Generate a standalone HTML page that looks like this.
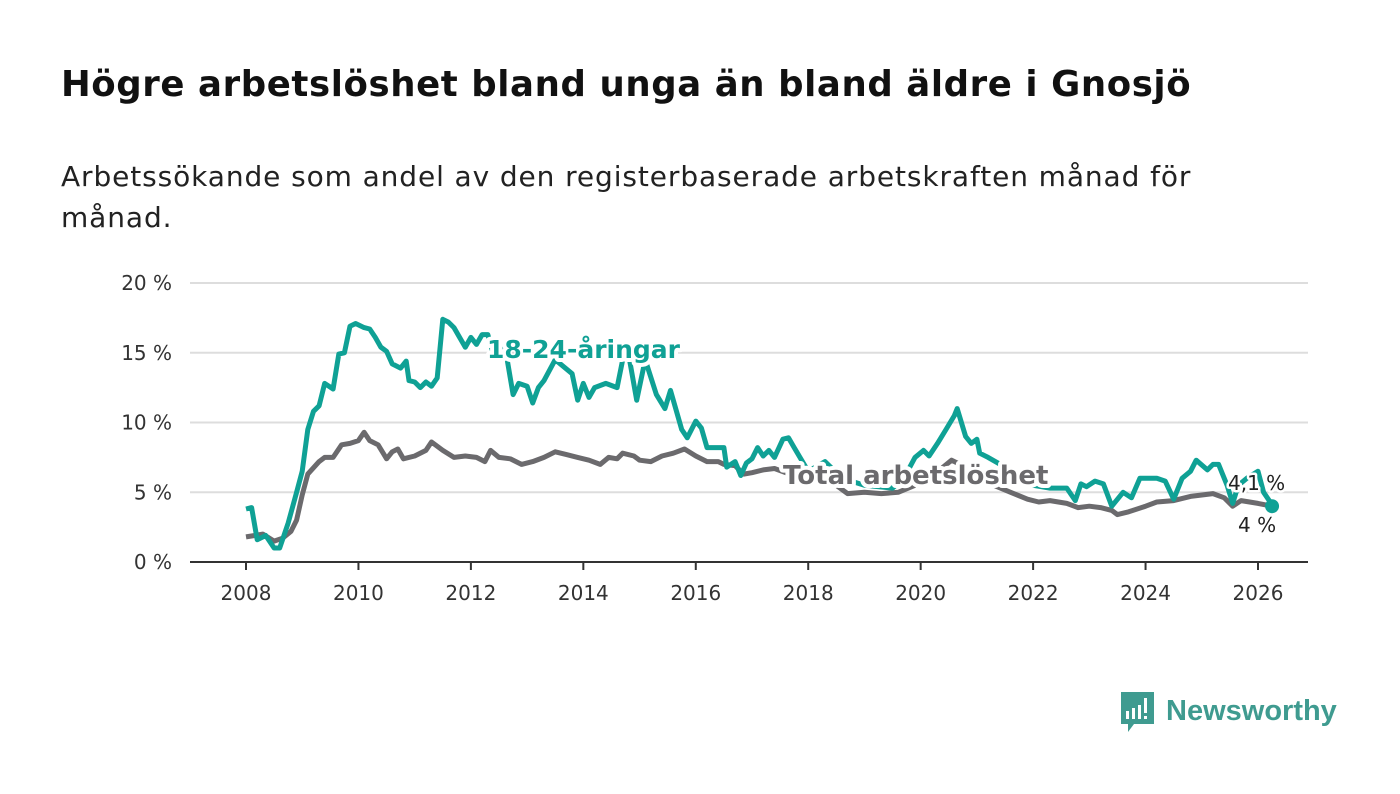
<!DOCTYPE html>
<html><head><meta charset="utf-8"><style>
body{margin:0;background:#fff;width:1400px;height:794px;overflow:hidden;font-family:"DejaVu Sans","Liberation Sans",sans-serif;}
h1{position:absolute;left:61px;top:64px;margin:0;font-size:35.5px;letter-spacing:0.6px;font-weight:bold;color:#111;white-space:nowrap;}
.sub{position:absolute;left:61px;top:156px;margin:0;font-size:28px;letter-spacing:0.9px;line-height:41px;color:#222;width:1300px;}
svg{position:absolute;left:0;top:0;}
</style></head><body>
<h1>Högre arbetslöshet bland unga än bland äldre i Gnosjö</h1>
<p class="sub">Arbetssökande som andel av den registerbaserade arbetskraften månad för<br>månad.</p>
<svg id="chart" width="1400" height="794"></svg>
<script>
const yTicks=[0,5,10,15,20];
const yTickLabels=["0 %","5 %","10 %","15 %","20 %"];
const xTicks=[2008,2010,2012,2014,2016,2018,2020,2022,2024,2026];
const youthDates=[2008.0,2008.1,2008.2,2008.35,2008.5,2008.6,2008.75,2008.9,2009.0,2009.1,2009.2,2009.3,2009.4,2009.55,2009.65,2009.75,2009.85,2009.95,2010.1,2010.2,2010.3,2010.4,2010.5,2010.6,2010.75,2010.85,2010.9,2011.0,2011.1,2011.2,2011.3,2011.4,2011.5,2011.6,2011.7,2011.8,2011.9,2012.0,2012.1,2012.2,2012.3,2012.4,2012.55,2012.6,2012.75,2012.85,2013.0,2013.1,2013.2,2013.3,2013.5,2013.8,2013.9,2014.0,2014.1,2014.2,2014.4,2014.6,2014.7,2014.8,2014.95,2015.1,2015.3,2015.45,2015.55,2015.75,2015.85,2016.0,2016.1,2016.2,2016.5,2016.55,2016.7,2016.8,2016.9,2017.0,2017.1,2017.2,2017.3,2017.4,2017.55,2017.65,2017.75,2018.0,2018.3,2018.6,2019.0,2019.5,2019.7,2019.9,2020.05,2020.15,2020.3,2020.45,2020.6,2020.65,2020.8,2020.9,2021.0,2021.05,2021.2,2021.5,2022.0,2022.3,2022.6,2022.75,2022.85,2022.95,2023.1,2023.25,2023.4,2023.6,2023.75,2023.9,2024.2,2024.35,2024.5,2024.65,2024.8,2024.9,2025.1,2025.2,2025.3,2025.45,2025.55,2025.65,2025.8,2026.0,2026.1,2026.25];
const youthValues=[3.8,3.9,1.6,1.9,1.0,1.0,2.8,5.0,6.5,9.5,10.8,11.2,12.8,12.4,14.9,15.0,16.9,17.1,16.8,16.7,16.1,15.4,15.1,14.2,13.9,14.4,13.0,12.9,12.5,12.9,12.6,13.2,17.4,17.2,16.8,16.1,15.4,16.1,15.6,16.3,16.3,14.9,15.1,15.6,12.0,12.8,12.6,11.4,12.5,13.0,14.5,13.5,11.6,12.8,11.8,12.5,12.8,12.5,14.5,15.0,11.6,14.5,12.0,11.0,12.3,9.5,8.9,10.1,9.6,8.2,8.2,6.8,7.2,6.2,7.1,7.4,8.2,7.6,8.0,7.5,8.8,8.9,8.2,6.5,7.2,6.0,5.5,5.3,6.0,7.5,8.0,7.6,8.5,9.5,10.5,11.0,9.0,8.5,8.8,7.8,7.5,6.8,5.5,5.3,5.3,4.4,5.6,5.4,5.8,5.6,4.0,5.0,4.6,6.0,6.0,5.8,4.5,6.0,6.5,7.3,6.6,7.0,7.0,5.5,4.2,5.5,6.0,6.5,5.0,4.1];
const totalDates=[2008.0,2008.3,2008.5,2008.65,2008.8,2008.9,2009.0,2009.1,2009.3,2009.4,2009.55,2009.7,2009.85,2010.0,2010.1,2010.2,2010.35,2010.5,2010.6,2010.7,2010.8,2011.0,2011.2,2011.3,2011.5,2011.7,2011.9,2012.1,2012.25,2012.35,2012.5,2012.7,2012.9,2013.1,2013.3,2013.5,2013.7,2013.9,2014.1,2014.3,2014.45,2014.6,2014.7,2014.9,2015.0,2015.2,2015.4,2015.6,2015.8,2016.0,2016.2,2016.4,2016.5,2016.7,2016.85,2017.0,2017.2,2017.4,2017.6,2017.8,2018.2,2018.5,2018.7,2019.0,2019.3,2019.6,2019.9,2020.1,2020.4,2020.55,2020.7,2021.0,2021.3,2021.6,2021.9,2022.1,2022.3,2022.6,2022.8,2023.0,2023.2,2023.4,2023.5,2023.7,2024.0,2024.2,2024.5,2024.8,2025.0,2025.2,2025.4,2025.55,2025.7,2026.0,2026.25];
const totalValues=[1.8,2.0,1.5,1.7,2.2,3.0,4.8,6.3,7.2,7.5,7.5,8.4,8.5,8.7,9.3,8.7,8.4,7.4,7.9,8.1,7.4,7.6,8.0,8.6,8.0,7.5,7.6,7.5,7.2,8.0,7.5,7.4,7.0,7.2,7.5,7.9,7.7,7.5,7.3,7.0,7.5,7.4,7.8,7.6,7.3,7.2,7.6,7.8,8.1,7.6,7.2,7.2,7.0,6.9,6.3,6.4,6.6,6.7,6.4,6.2,5.8,5.5,4.9,5.0,4.9,5.0,5.5,6.0,6.8,7.3,7.0,6.5,5.5,5.0,4.5,4.3,4.4,4.2,3.9,4.0,3.9,3.7,3.4,3.6,4.0,4.3,4.4,4.7,4.8,4.9,4.6,4.0,4.4,4.2,4.0];

const NS="http://www.w3.org/2000/svg";
const svg=document.getElementById('chart');
const X=v=>246+(v-2008)*(1012/18);
const Y=v=>562-v*13.95;
function mk(t,a,p){const e=document.createElementNS(NS,t);for(const k in a)e.setAttribute(k,a[k]);(p||svg).appendChild(e);return e;}
yTicks.forEach((t,i)=>{
  const g=mk('line',{x1:190,x2:1308,y1:Y(t),y2:Y(t),stroke:t===0?'#333':'#ddd','stroke-width':2});
  
  
  const l=mk('text',{x:172,y:Y(t)+7,'text-anchor':'end','font-size':20,fill:'#333'});
  l.textContent=yTickLabels[i];
  
  
});
xTicks.forEach(t=>{
  const k=mk('line',{x1:X(t),x2:X(t),y1:562,y2:570,stroke:'#333','stroke-width':2});
  
  
  const l=mk('text',{x:X(t),y:600,'text-anchor':'middle','font-size':20,fill:'#333'});
  l.textContent=t;
  
  
});
function path(d,v){return d.map((x,i)=>(i?'L':'M')+X(x).toFixed(1)+','+Y(v[i]).toFixed(1)).join('');}
const tl=mk('path',{d:path(totalDates,totalValues),fill:'none',stroke:'#6b6a6d','stroke-width':5,'stroke-linejoin':'round'});


const yl=mk('path',{d:path(youthDates,youthValues),fill:'none',stroke:'#0fa195','stroke-width':5,'stroke-linejoin':'round'});


const d1=mk('circle',{cx:X(totalDates[totalDates.length-1]),cy:Y(totalValues[totalValues.length-1]),r:7,fill:'#0fa195'});


function lab(txt,x,y,fill,size,bold,name,anchor){
  const t=mk('text',{x:x,y:y,'font-size':size,'font-weight':bold?'bold':'normal',fill:fill,stroke:'#fff','stroke-width':bold?8:5,'paint-order':'stroke','stroke-linejoin':'round','text-anchor':anchor||'start'});
  t.textContent=txt;
  
  
}
lab('18-24-åringar',487,358,'#0fa195',25,true,'youth-series-label');
lab('Total arbetslöshet',783,484,'#6b6a6d',26,true,'total-series-label');
lab('4,1 %',1228,490,'#222',20,false,'youth-end-value');
lab('4 %',1238,532,'#222',20,false,'total-end-value');
</script>
<svg width="1400" height="794">
<path d="M1121 692h33v32h-20l-6 8v-8h-7z" fill="#3f9b90"/>
<rect x="1126" y="711" width="3" height="8" fill="#fff"/><rect x="1132" y="708" width="3" height="11" fill="#fff"/><rect x="1138" y="705" width="3" height="14" fill="#fff"/><rect x="1144" y="698" width="3" height="15" fill="#fff"/><rect x="1144" y="716" width="3" height="3" fill="#fff"/>
<text x="1166" y="720" font-size="29" font-weight="bold" fill="#3f9b90" font-family="Liberation Sans, sans-serif">Newsworthy</text>
</svg>
</body></html>
